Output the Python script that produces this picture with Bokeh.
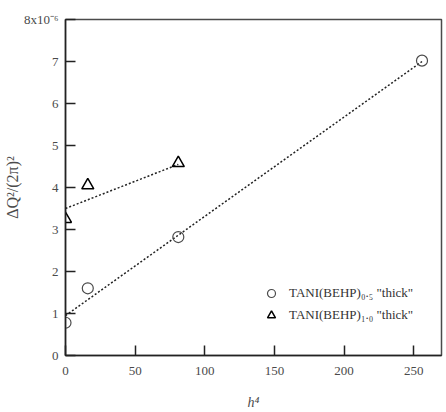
from bokeh.plotting import figure
from bokeh.models import Range1d, FixedTicker, Legend, LegendItem
from bokeh.embed import file_html
from bokeh.resources import INLINE

# data (y in units of 1e-6)
h4_a = [0, 16, 81, 256]
dq_a = [0.78, 1.60, 2.82, 7.02]
h4_b = [0, 16, 81]
dq_b = [3.25, 4.05, 4.58]
fit_a_x = [0, 256]
fit_a_y = [0.95, 7.0]
fit_b_x = [0, 81]
fit_b_y = [3.5, 4.55]
x_ticks = [0, 50, 100, 150, 200, 250]
y_ticks = [0, 1, 2, 3, 4, 5, 6, 7, 8]
label_a = 'TANI(BEHP)\u2080.\u2085 "thick"'
label_b = 'TANI(BEHP)\u2081.\u2080 "thick"'

FONT = "Liberation Serif"
GREY = "#4a4a4a"

p = figure(width=446, height=412, output_backend="svg", toolbar_location=None,
           x_range=Range1d(0, 270), y_range=Range1d(0, 8),
           min_border_left=64, min_border_right=5, min_border_top=19, min_border_bottom=56)
p.grid.visible = False
p.outline_line_color = GREY
p.outline_line_width = 1.5
p.background_fill_color = "white"
p.border_fill_color = "white"

for ax in (p.xaxis[0], p.yaxis[0]):
    ax.major_tick_in = 10
    ax.major_tick_out = 0
    ax.minor_tick_line_color = None
    ax.axis_line_color = "#222222"
    ax.axis_line_width = 1.5
    ax.major_tick_line_color = "#222222"
    ax.major_tick_line_width = 1.5
    ax.major_label_text_font = FONT
    ax.major_label_text_font_size = "13px"
    ax.major_label_text_color = GREY
    ax.axis_label_text_font = FONT
    ax.axis_label_text_color = GREY

p.xaxis.ticker = FixedTicker(ticks=x_ticks)
p.yaxis.ticker = FixedTicker(ticks=y_ticks)
p.yaxis.major_label_overrides = {8: "8x10\u207b\u2076"}
p.xaxis.major_label_standoff = 11
p.yaxis.major_label_standoff = 7
p.xaxis.axis_label = "h\u2074"
p.xaxis.axis_label_text_font_size = "14px"
p.xaxis.axis_label_text_font_style = "italic"
p.xaxis.axis_label_standoff = 17
p.yaxis.axis_label = "\u0394Q\u00b2/(2\u03c0)\u00b2"
p.yaxis.axis_label_text_font_size = "16px"
p.yaxis.axis_label_text_font_style = "normal"
p.yaxis.axis_label_standoff = 0

p.line(fit_a_x, fit_a_y, line_dash="2 2", line_color="#222222", line_width=1.5)
p.line(fit_b_x, fit_b_y, line_dash="2 2", line_color="#222222", line_width=1.5)
ra = p.scatter(h4_a, dq_a, marker="circle", size=11, fill_color=None,
               line_color=GREY, line_width=1.2)
rb = p.scatter(h4_b, dq_b, marker="triangle", size=12, fill_color=None,
               line_color="black", line_width=1.5)

leg = Legend(items=[LegendItem(label=label_a, renderers=[ra]),
                    LegendItem(label=label_b, renderers=[rb])],
             location=(196, 30), border_line_color=None, background_fill_alpha=0,
             label_text_font=FONT, label_text_font_size="13px", label_text_color="#333333",
             glyph_width=20, label_standoff=8, spacing=2, padding=4)
p.add_layout(leg)

open("out.html", "w").write(file_html(p, INLINE))
